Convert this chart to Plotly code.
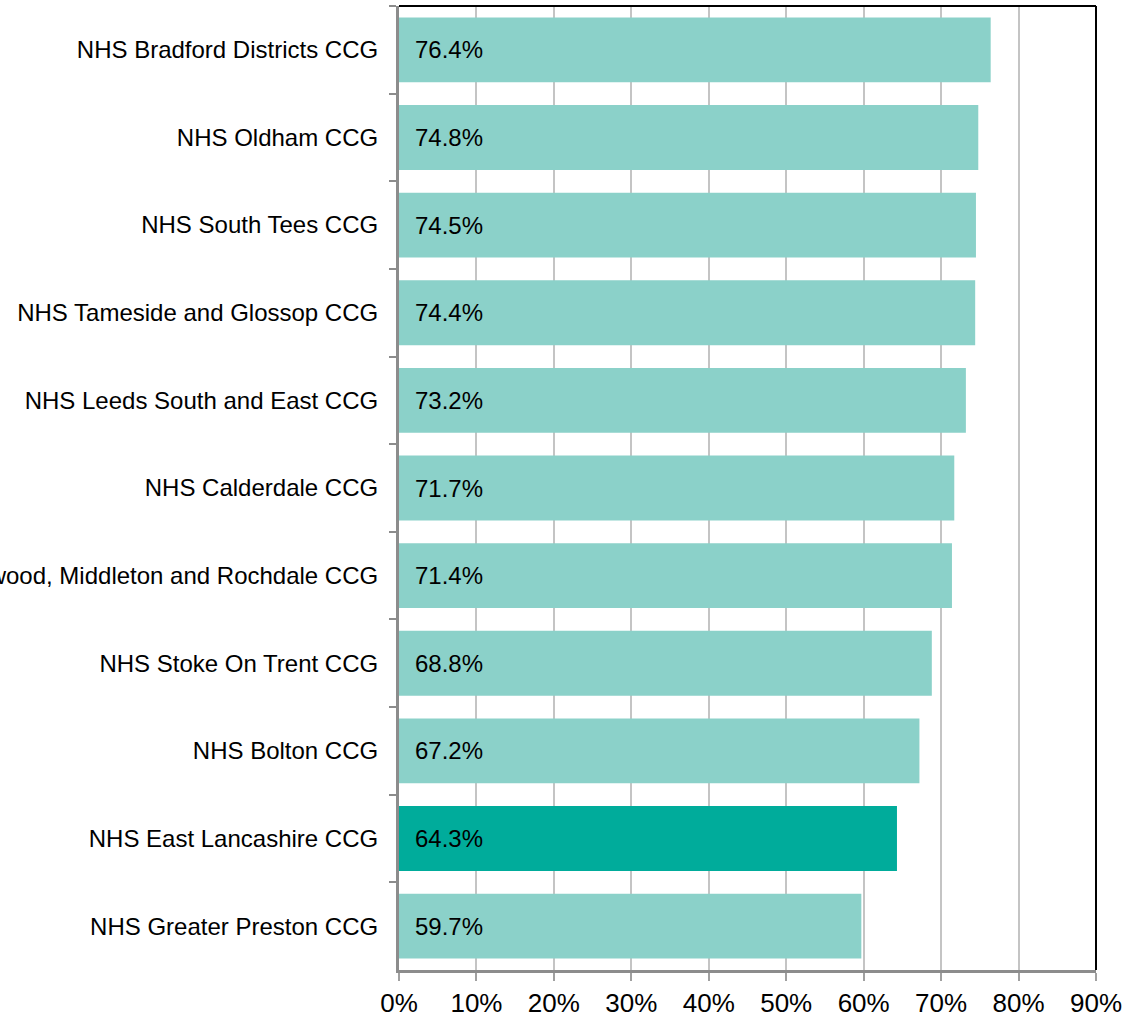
import plotly.graph_objects as go

categories = [
    "NHS Bradford Districts CCG",
    "NHS Oldham CCG",
    "NHS South Tees CCG",
    "NHS Tameside and Glossop CCG",
    "NHS Leeds South and East CCG",
    "NHS Calderdale CCG",
    "NHS Heywood, Middleton and Rochdale CCG",
    "NHS Stoke On Trent CCG",
    "NHS Bolton CCG",
    "NHS East Lancashire CCG",
    "NHS Greater Preston CCG",
]
values = [76.4, 74.8, 74.5, 74.4, 73.2, 71.7, 71.4, 68.8, 67.2, 64.3, 59.7]
highlight = "NHS East Lancashire CCG"
x_ticks = [0, 10, 20, 30, 40, 50, 60, 70, 80, 90]
x_tick_labels = [f"{t}%" for t in x_ticks]

light = "#8BD1C9"
dark = "#00AC9B"
colors = [dark if c == highlight else light for c in categories]
FONT = "Liberation Sans, Arial"

fig = go.Figure()
fig.add_trace(go.Bar(
    y=categories, x=values, orientation="h",
    marker=dict(color=colors, line=dict(width=0)),
    width=0.74, hoverinfo="x+y",
))

for c, v in zip(categories, values):
    fig.add_annotation(x=0, y=c, text=f"{v:.1f}%", xanchor="left", xshift=14,
                       showarrow=False, font=dict(size=24, color="black", family=FONT))

fig.update_layout(
    width=1126, height=1016,
    margin=dict(l=399, r=30, t=6, b=46),
    paper_bgcolor="white", plot_bgcolor="white",
    showlegend=False,
    font=dict(family=FONT, color="black"),
    xaxis=dict(range=[0, 90], tickvals=x_ticks, ticktext=x_tick_labels,
               showgrid=True, gridcolor="#C4C4C4", gridwidth=2,
               ticks="outside", ticklen=8, tickcolor="#A0A0A0", tickwidth=2,
               showline=True, linecolor="#8C8C8C", linewidth=3,
               tickfont=dict(size=26), ticklabelstandoff=0, zeroline=False,
               automargin=False, fixedrange=True),
    yaxis=dict(autorange="reversed", tickson="boundaries", ticks="outside",
               ticklen=7, tickcolor="#8C8C8C", tickwidth=2,
               showline=True, linecolor="#8C8C8C", linewidth=3,
               showgrid=False, tickfont=dict(size=24), ticklabelstandoff=13,
               automargin=False, fixedrange=True),
)
# top and right frame lines
fig.add_shape(type="line", xref="paper", yref="paper", x0=0, x1=1, y0=1, y1=1,
              line=dict(color="black", width=2))
fig.add_shape(type="line", xref="paper", yref="paper", x0=1, x1=1, y0=0, y1=1,
              line=dict(color="black", width=2))

fig.write_html("out.html", config={"displayModeBar": False},
               post_script="document.body.style.margin='0px';")
